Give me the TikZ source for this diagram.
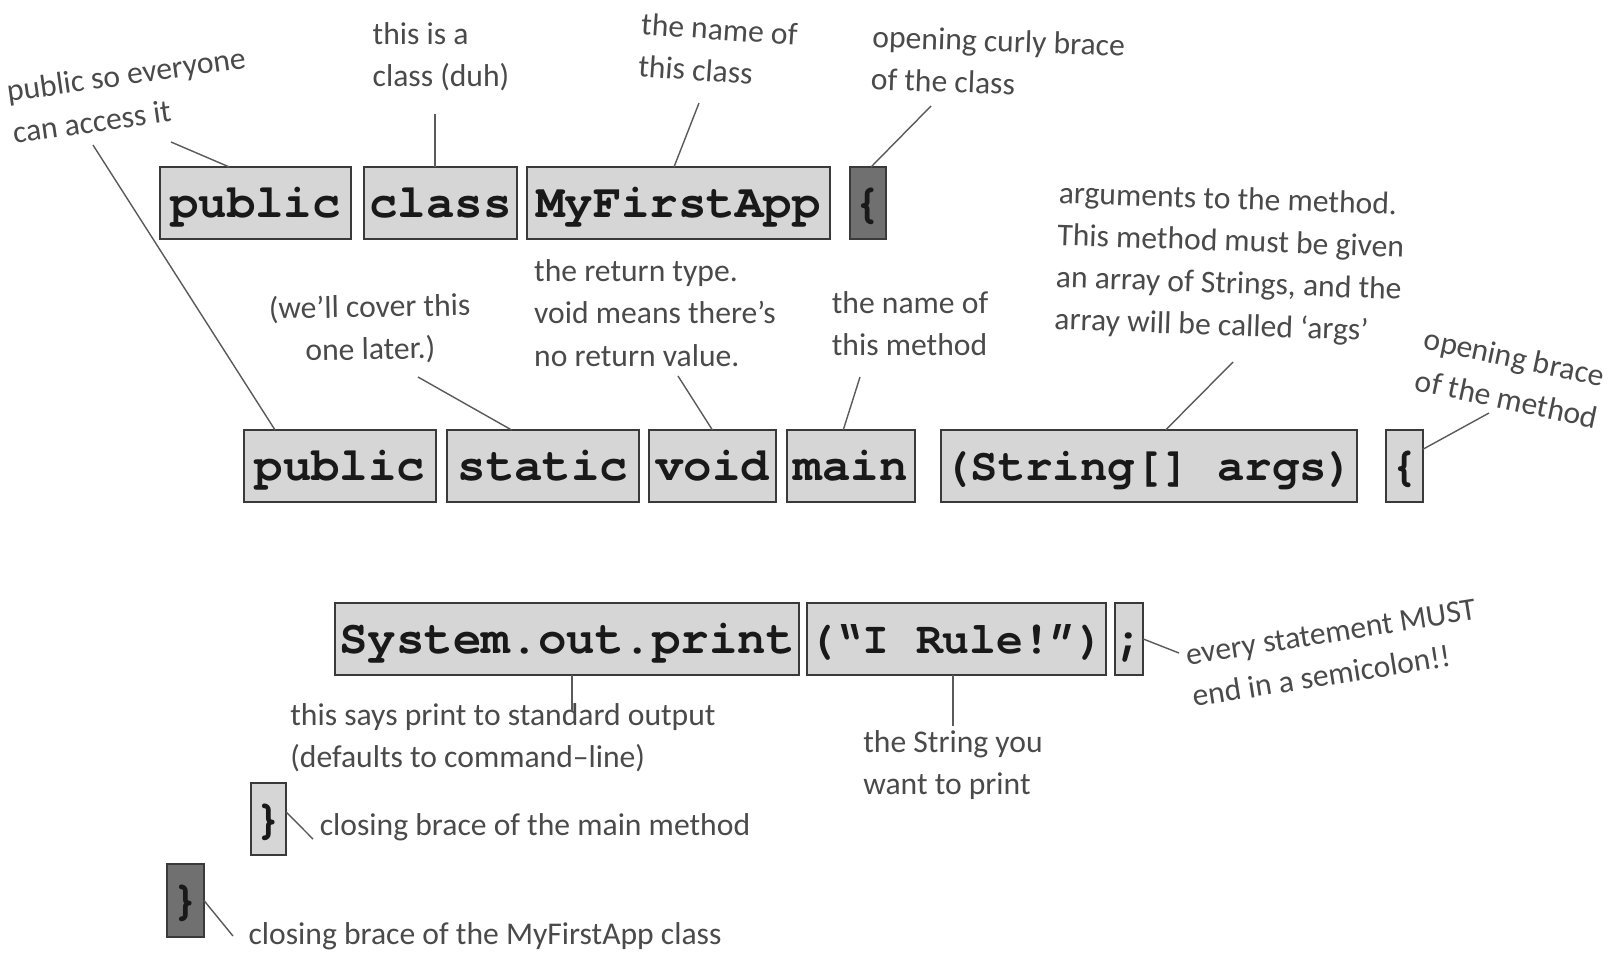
\documentclass[tikz,border=0pt]{standalone}
\usepackage{fontspec}
\setmainfont{Carlito}
\newfontfamily\codefont{TeX Gyre Cursor}
\usepackage{tikz}
\usetikzlibrary{positioning}
\definecolor{boxgray}{HTML}{D6D6D6}
\definecolor{boxdark}{HTML}{707070}
\definecolor{boxedge}{HTML}{3A3A3A}
\definecolor{notegray}{HTML}{4A4A4A}
\definecolor{linkgray}{HTML}{5A5A5A}

\begin{document}
\begin{tikzpicture}[
  x=0.02cm, y=-0.02cm,
  codebox/.style={draw=boxedge,line width=1.3pt,fill=boxgray,inner sep=0pt,outer sep=0pt,minimum height=1.44cm,text height=20pt,text depth=4pt,text=black!90,font=\codefont\bfseries\fontsize{27}{30}\selectfont},
  darkbox/.style={codebox,fill=boxdark},
  notetext/.style={text=notegray,align=left,inner sep=0pt,font=\fontsize{18}{24}\selectfont},
  pointer/.style={draw=linkgray,line width=0.8pt}
]
\useasboundingbox (0,0) rectangle (1621,965);

\node[codebox,anchor=north west,minimum width=3.82cm] (pub1) at (160,167) {public};
\node[codebox,minimum width=3.06cm,right=0.26cm of pub1] (cls) {class};
\node[codebox,minimum width=6.06cm,right=0.2cm of cls] (app) {MyFirstApp};
\node[darkbox,minimum width=0.72cm,right=0.4cm of app] (ob1) {\{};

\node[codebox,anchor=north west,minimum width=3.84cm] (pub2) at (244,430) {public};
\node[codebox,minimum width=3.84cm,right=0.22cm of pub2] (stat) {static};
\node[codebox,minimum width=2.54cm,right=0.2cm of stat] (void) {void};
\node[codebox,minimum width=2.56cm,right=0.22cm of void] (main) {main};
\node[codebox,minimum width=8.32cm,right=0.52cm of main,font=\codefont\bfseries\fontsize{26}{30}\selectfont] (args) {(String[] args)};
\node[codebox,minimum width=0.74cm,right=0.58cm of args] (ob2) {\{};

\node[codebox,anchor=north west,minimum width=9.28cm] (sop) at (335,603) {System.out.print};
\node[codebox,minimum width=5.98cm,right=0.16cm of sop,font=\codefont\bfseries\fontsize{25.5}{30}\selectfont] (str) {(“I Rule!”)};
\node[codebox,minimum width=0.56cm,right=0.18cm of str] (semi) {;};

\node[codebox,anchor=north west,minimum width=0.70cm] (cb1) at (251,783) {\}};
\node[darkbox,anchor=north west,minimum width=0.74cm,minimum height=1.46cm] (cb2) at (167,864) {\}};

\node[notetext,rotate=8] (pubnote) at (129,95) {public so everyone\\can access it};
\node[notetext] (clsnote) at (441,57) {this is a\\class (duh)};
\node[notetext,rotate=-4] (appnote) at (718,50) {the name of\\this class};
\node[notetext,rotate=-2] (ob1note) at (998,62) {opening curly brace\\of the class};
\node[notetext,align=center,rotate=1] (statnote) at (370,329) {(we’ll cover this\\one later.)};
\node[notetext] (voidnote) at (655,313) {the return type.\\void means there’s\\no return value.};
\node[notetext] (mainnote) at (910,324) {the name of\\this method};
\node[notetext,rotate=-2] (argsnote) at (1230,264) {arguments to the method.\\This method must be given\\an array of Strings, and the\\array will be called ‘args’};
\node[notetext,rotate=-12] (ob2note) at (1511,378) {opening brace\\of the method};
\node[notetext] (sopnote) at (503,738) {this says print to standard output\\(defaults to command--line)};
\node[notetext] (strnote) at (953,765) {the String you\\want to print};
\node[notetext,rotate=9] (seminote) at (1334,653) {every statement MUST\\end in a semicolon!!};
\node[notetext] (cb1note) at (535,827) {closing brace of the main method};
\node[notetext] (cb2note) at (485,936) {closing brace of the MyFirstApp class};

\coordinate (pubtipa) at (171,142);
\coordinate (pubtipb) at (93,145);
\coordinate (clstip) at (435,114);
\coordinate (apptip) at (699,103);
\coordinate (ob1tip) at (931,106);
\coordinate (stattip) at (418,377);
\coordinate (voidtip) at (678,376);
\coordinate (maintip) at (860,377);
\coordinate (argstip) at (1233,362);
\coordinate (ob2tip) at (1489,413);
\coordinate (soptip) at (572,711);
\coordinate (strtip) at (953,726);
\coordinate (semitip) at (1179,653);
\coordinate (cb1tip) at (313,839);
\coordinate (cb2tip) at (233,936);

\draw[pointer] (pubtipa) -- (pub1.126);
\draw[pointer] (pubtipb) -- (pub2.151);
\draw[pointer] (clstip) -- (clstip |- cls.north);
\draw[pointer] (apptip) -- (app.97);
\draw[pointer] (ob1tip) -- (ob1.85);
\draw[pointer] (stattip) -- (stat.131);
\draw[pointer] (voidtip) -- (void.north);
\draw[pointer] (maintip) -- (main.102);
\draw[pointer] (argstip) -- (args.65);
\draw[pointer] (ob2tip) -- (ob2.42);
\draw[pointer] (soptip) -- (soptip |- sop.south);
\draw[pointer] (strtip) -- (strtip |- str.south);
\draw[pointer] (semitip) -- (semi.east);
\draw[pointer] (cb1tip) -- (cb1.22);
\draw[pointer] (cb2tip) -- (cb2.east);
\end{tikzpicture}
\end{document}
